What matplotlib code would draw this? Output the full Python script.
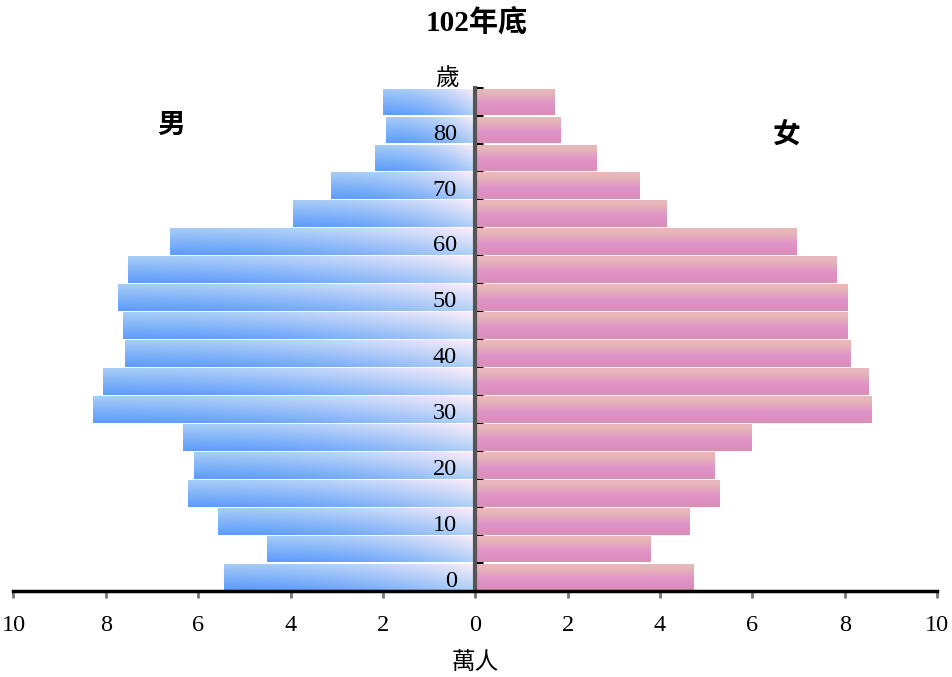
import matplotlib
matplotlib.use("Agg")
import matplotlib.pyplot as plt
import numpy as np

# age groups 0-4 ... 85+ (bottom to top), values in 萬人
age_starts = list(range(0, 90, 5))
male = [5.45, 4.50, 5.56, 6.23, 6.08, 6.32, 8.27, 8.07, 7.58, 7.62,
        7.73, 7.51, 6.60, 3.94, 3.12, 2.16, 1.93, 1.99]
female = [4.70, 3.77, 4.63, 5.28, 5.17, 5.97, 8.57, 8.50, 8.10, 8.05,
          8.05, 7.81, 6.93, 4.13, 3.53, 2.62, 1.84, 1.71]
age_labels = ["0", "10", "20", "30", "40", "50", "60", "70", "80"]
x_ticks = [-10, -8, -6, -4, -2, 0, 2, 4, 6, 8, 10]
x_ticklabels = ["10", "8", "6", "4", "2", "0", "2", "4", "6", "8", "10"]

SERIF = ["Liberation Serif", "Noto Sans CJK TC", "DejaVu Sans"]
CJK = ["Noto Sans CJK TC", "DejaVu Sans"]


def hexrgb(h):
    h = h.lstrip("#")
    return np.array([int(h[i:i + 2], 16) for i in (0, 2, 4)]) / 255.0


def male_img(nx=64, ny=16):
    ob, ot = hexrgb("#5f9cfc"), hexrgb("#a6ccf6")
    ib, it = hexrgb("#b2d2f6"), hexrgb("#fbecfa")
    t = np.linspace(0, 1, nx) ** 2.0
    s = np.linspace(0, 1, ny)
    T, S = np.meshgrid(t, s)
    T, S = T[..., None], S[..., None]
    outer = ob * (1 - S) + ot * S
    inner = ib * (1 - S) + it * S
    return np.clip(outer * (1 - T) + inner * T, 0, 1)


def female_img(nx=4, ny=32):
    stops = [(0.0, "#d990ac"), (0.12, "#dd8ec0"), (0.45, "#e196c8"), (0.8, "#e6b4b8"), (1.0, "#e8baba")]
    s = np.linspace(0, 1, ny)
    pos = [p for p, _ in stops]
    cols = np.array([hexrgb(c) for _, c in stops])
    col = np.stack([np.interp(s, pos, cols[:, k]) for k in range(3)], axis=1)
    return np.repeat(col[:, None, :], nx, axis=1)


fig = plt.figure(figsize=(9.53, 6.77), dpi=100)
ax = fig.add_axes([0.0141, 0.127, 0.9691, 0.743])

y = np.arange(len(age_starts)) + 0.5
h = 0.955
mbars = ax.barh(y, [-v for v in male], height=h, color="none", lw=0, zorder=2)
fbars = ax.barh(y, female, left=0.02, height=h, color="none", lw=0, zorder=2)

mimg, fimg = male_img(), female_img()
for p in mbars:
    x0, y0 = p.get_x(), p.get_y()
    im = ax.imshow(mimg, extent=(x0 + p.get_width(), x0, y0, y0 + p.get_height()),
                   origin="lower", aspect="auto", interpolation="bilinear", zorder=2)
    im.set_clip_path(p)
for p in fbars:
    x0, y0 = p.get_x(), p.get_y()
    im = ax.imshow(fimg, extent=(x0, x0 + p.get_width(), y0, y0 + p.get_height()),
                   origin="lower", aspect="auto", interpolation="bilinear", zorder=2)
    im.set_clip_path(p)

ax.set_xlim(-10, 10)
ax.set_ylim(0, len(age_starts))

for s in ["top", "right"]:
    ax.spines[s].set_visible(False)
ax.spines["left"].set_position(("data", 0))
ax.spines["left"].set_color("#555555")
ax.spines["left"].set_linewidth(3)
ax.spines["left"].set_zorder(4)
ax.spines["bottom"].set_linewidth(2.5)
ax.spines["bottom"].set_zorder(4)

ax.set_yticks(np.arange(0, len(age_starts) + 1))
ax.set_yticklabels([])
ax.tick_params(axis="y", direction="in", length=6, width=2.2, color="black")
ax.set_xticks(x_ticks)
ax.set_xticklabels(x_ticklabels, family=SERIF, fontsize=17.5)
ax.tick_params(axis="x", direction="out", length=5, width=2, color="#777777", pad=12)

for i, lab in enumerate(age_labels):
    ax.text(-0.4, y[2 * i] - 0.15, lab, ha="right", va="center",
            family=SERIF, fontsize=17.5, zorder=5)
ax.text(-0.62, len(age_starts) + 0.33, "歲", ha="center", va="center",
        family=CJK, fontsize=17, zorder=5)

fig.text(0.180, 0.815, "男", ha="center", va="center", family=CJK,
         fontsize=20, fontweight="bold")
fig.text(0.826, 0.800, "女", ha="center", va="center", family=CJK,
         fontsize=20, fontweight="bold")
fig.text(0.5, 0.966, "102年底", ha="center", va="center", family=SERIF,
         fontsize=21, fontweight="bold")
fig.text(0.499, 0.022, "萬人", ha="center", va="center", family=CJK, fontsize=17)

fig.savefig("out.png", dpi=100)
